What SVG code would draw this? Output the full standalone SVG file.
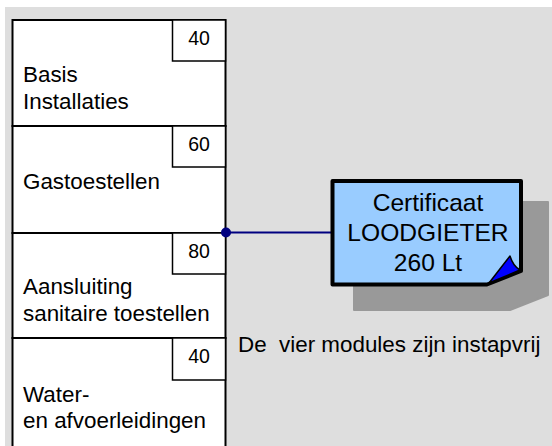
<svg xmlns="http://www.w3.org/2000/svg" width="552" height="446" viewBox="0 0 552 446">
<style>
.lbl{font-family:"Liberation Sans",Arial,sans-serif;font-size:22.4px;fill:#000}
.big{font-family:"Liberation Sans",Arial,sans-serif;font-size:24.6px;fill:#000;text-anchor:middle}
.num{font-family:"Liberation Sans",Arial,sans-serif;font-size:19.5px;fill:#000;text-anchor:middle}
.sec{fill:#fff;stroke:#000;stroke-width:2}
.nb{fill:#fff;stroke:#000;stroke-width:1.5}
</style>
<rect x="0" y="0" width="552" height="446" fill="#fff"/>
<rect x="5" y="7" width="547" height="439" fill="#dedede"/>
<g id="basis">
<rect class="sec" x="12.5" y="20" width="213" height="106"/>
<rect class="nb" x="172.5" y="20" width="53" height="41"/>
<text class="num" x="199" y="45">40</text>
<text class="lbl" x="23" y="82">Basis</text>
<text class="lbl" x="23" y="109">Installaties</text>
</g>
<g id="gas">
<rect class="sec" x="12.5" y="126" width="213" height="107"/>
<rect class="nb" x="172.5" y="126" width="53" height="41"/>
<text class="num" x="199" y="151">60</text>
<text class="lbl" x="23" y="189">Gastoestellen</text>
</g>
<g id="sanitair">
<rect class="sec" x="12.5" y="233" width="213" height="105"/>
<rect class="nb" x="172.5" y="233" width="53" height="41"/>
<text class="num" x="199" y="258">80</text>
<text class="lbl" x="23" y="294">Aansluiting</text>
<text class="lbl" x="23" y="321">sanitaire toestellen</text>
</g>
<g id="water">
<rect class="sec" x="12.5" y="338" width="213" height="112"/>
<rect class="nb" x="172.5" y="338" width="53" height="42"/>
<text class="num" x="199" y="363">40</text>
<text class="lbl" x="23" y="402">Water-</text>
<text class="lbl" x="23" y="428">en afvoerleidingen</text>
</g>
<g id="connectors">
<line x1="226" y1="232.5" x2="332" y2="232.5" stroke="#000080" stroke-width="2"/>
<circle cx="226" cy="232.5" r="5" fill="#000080"/>
</g>
<g id="certificaat">
<path d="M354 202 H548 V295 L510 310 H354 Z" fill="#999999" stroke="#999999" stroke-width="2" stroke-linejoin="round"/>
<path d="M332.5 181 H521 V271 L487 284.5 H332.5 Z" fill="#99ccff" stroke="#000" stroke-width="4" stroke-linejoin="round"/>
<path d="M489 283 L510 256 Q513 266 520 270 Z" fill="#0000ff" stroke="#000" stroke-width="1.5" stroke-linejoin="round"/>
<text class="big" x="428" y="210.5">Certificaat</text>
<text class="big" x="428" y="241">LOODGIETER</text>
<text class="big" x="428" y="270.5">260 Lt</text>
</g>
<text class="lbl" x="238" y="352" xml:space="preserve">De  vier modules zijn instapvrij</text>
</svg>
